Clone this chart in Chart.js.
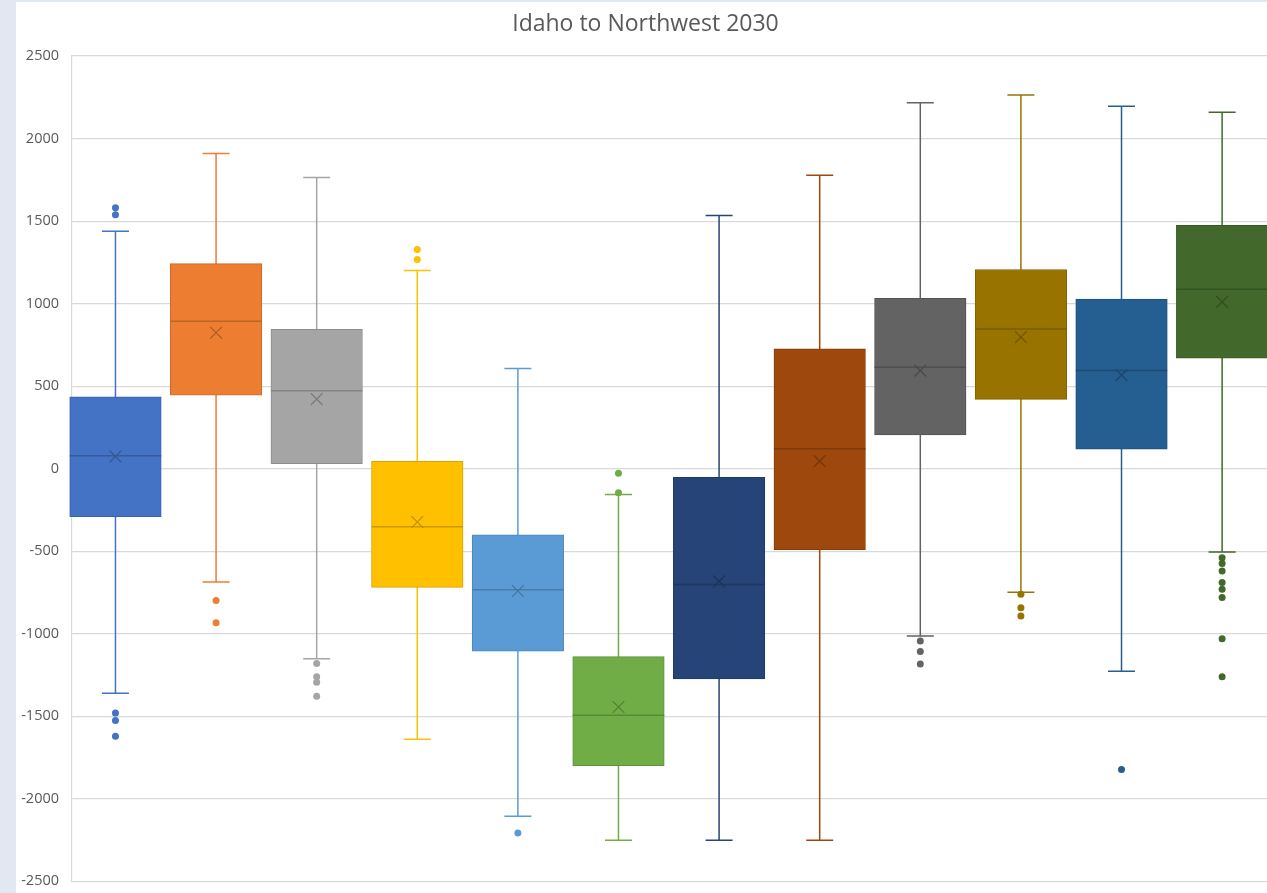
<!DOCTYPE html>
<html>
<head>
<meta charset="utf-8">
<script src="https://cdn.jsdelivr.net/npm/chart.js@4"></script>
<style>
html, body { margin: 0; padding: 0; overflow: hidden; background: #e1e8f2; }
#wrap { position: absolute; left: 16px; top: 2px; width: 1263px; height: 901px; background: #fff; }
</style>
</head>
<body>
<div id="wrap"><canvas id="myChart" width="1263" height="901" style="width:1263px;height:901px"></canvas></div>
<script>
// one box per series, left to right
let q3s = [436, 1243, 844, 44, -400, -1139, -53, 727, 1033, 1207, 1027, 1474];
let q1s = [-291, 446, 30, -719, -1105, -1799, -1274, -491, 204, 420, 119, 670];
let medians = [79, 894, 472, -351, -733, -1494, -701, 121, 615, 846, 595, 1088];
let means = [74, 824, 422, -323, -741, -1444, -683, 46, 594, 797, 567, 1011];
let whiskerHigh = [1439, 1910, 1764, 1201, 607, -156, 1534, 1778, 2217, 2265, 2196, 2160];
let whiskerLow = [-1361, -687, -1151, -1640, -2106, -2251, -2251, -2251, -1014, -749, -1228, -505];
let outliers = [
  [1581, 1538, -1480, -1525, -1621],
  [-798, -933],
  [-1181, -1260, -1294, -1379],
  [1328, 1268],
  [-2207],
  [-28, -145],
  [],
  [],
  [-1044, -1107, -1183],
  [-760, -842, -893],
  [-1823],
  [-539, -575, -620, -689, -731, -780, -1030, -1260]
];
let colors = ["#4472C4", "#ED7D31", "#A5A5A5", "#FFC000", "#5B9BD5", "#70AD47",
              "#264478", "#9E480E", "#636363", "#997300", "#255E91", "#43682B"];
let yTicks = [-2500, -2000, -1500, -1000, -500, 0, 500, 1000, 1500, 2000, 2500];

function shade(hex, f) {
  let n = parseInt(hex.slice(1), 16);
  let r = Math.round(((n >> 16) & 255) * f);
  let g = Math.round(((n >> 8) & 255) * f);
  let b = Math.round((n & 255) * f);
  return `rgb(${r},${g},${b})`;
}

const boxWidth = 91.5;
const capWidth = 27;

// whiskers under the boxes, medians on top of them
const boxParts = {
  id: "boxParts",
  beforeDatasetsDraw(chart) {
    let ctx = chart.ctx, x = chart.scales.x, y = chart.scales.y;
    ctx.save();
    ctx.lineWidth = 1.5;
    for (let i = 0; i < q1s.length; i++) {
      let px = x.getPixelForValue(i);
      let top = y.getPixelForValue(whiskerHigh[i]);
      let bot = y.getPixelForValue(whiskerLow[i]);
      ctx.strokeStyle = colors[i];
      ctx.beginPath();
      ctx.moveTo(px, top);
      ctx.lineTo(px, bot);
      ctx.moveTo(px - capWidth / 2, top);
      ctx.lineTo(px + capWidth / 2, top);
      ctx.moveTo(px - capWidth / 2, bot);
      ctx.lineTo(px + capWidth / 2, bot);
      ctx.stroke();
    }
    ctx.restore();
  },
  afterDatasetDraw(chart, args) {
    if (args.index !== 2) return;
    let ctx = chart.ctx, x = chart.scales.x, y = chart.scales.y;
    ctx.save();
    ctx.lineWidth = 1.5;
    for (let i = 0; i < medians.length; i++) {
      let px = x.getPixelForValue(i);
      let py = y.getPixelForValue(medians[i]);
      ctx.strokeStyle = shade(colors[i], 0.8);
      ctx.beginPath();
      ctx.moveTo(px - boxWidth / 2, py);
      ctx.lineTo(px + boxWidth / 2, py);
      ctx.stroke();
    }
    ctx.restore();
  }
};

let outlierPoints = [];
outliers.forEach((list, i) => list.forEach(v => outlierPoints.push({ x: i, y: v })));

let ctx = document.getElementById("myChart").getContext("2d");
let chart = new Chart(ctx, {
  type: "bar",
  data: {
    datasets: [
      {
        type: "scatter",
        label: "Mean",
        data: means.map((m, i) => ({ x: i, y: m })),
        pointStyle: "crossRot",
        pointRadius: 8.3,
        pointBorderWidth: 1.3,
        pointBorderColor: colors.map(c => shade(c, 0.75)),
        pointBackgroundColor: "transparent"
      },
      {
        type: "scatter",
        label: "Outliers",
        data: outlierPoints,
        pointStyle: "circle",
        pointRadius: 3.5,
        pointBorderWidth: 0,
        pointBackgroundColor: c => colors[c.raw ? c.raw.x : 0]
      },
      {
        label: "Box",
        data: q1s.map((q, i) => ({ x: i, y: [q, q3s[i]] })),
        backgroundColor: colors,
        borderColor: colors.map(c => shade(c, 0.85)),
        borderWidth: 1,
        borderSkipped: false,
        barThickness: boxWidth,
        clip: false
      }
    ]
  },
  options: {
    responsive: false,
    animation: false,
    layout: { padding: { left: 0, right: 4, top: 0, bottom: 2 } },
    plugins: {
      legend: { display: false },
      tooltip: { enabled: false },
      title: {
        display: true,
        text: "Idaho to Northwest 2030",
        color: "#595959",
        font: { family: "'Open Sans', sans-serif", size: 23, weight: "normal" },
        padding: { top: 9, bottom: 17.5 }
      }
    },
    scales: {
      x: {
        type: "linear",
        display: false,
        min: -0.432,
        max: 11.47,
        offset: false,
        grid: { display: false, offset: false }
      },
      y: {
        min: yTicks[0],
        max: yTicks[yTicks.length - 1],
        afterBuildTicks: axis => { axis.ticks = yTicks.map(v => ({ value: v })); },
        afterFit: axis => { axis.width = 56; },
        grid: { color: "#d9d9d9", lineWidth: 1.2, drawTicks: false },
        border: { display: true, color: "#d9d9d9", width: 1.2 },
        ticks: {
          color: "#595959",
          padding: 13,
          font: { family: "'Open Sans', sans-serif", size: 14.5 },
          callback: v => String(v)
        }
      }
    }
  },
  plugins: [boxParts]
});
</script>
</body>
</html>
